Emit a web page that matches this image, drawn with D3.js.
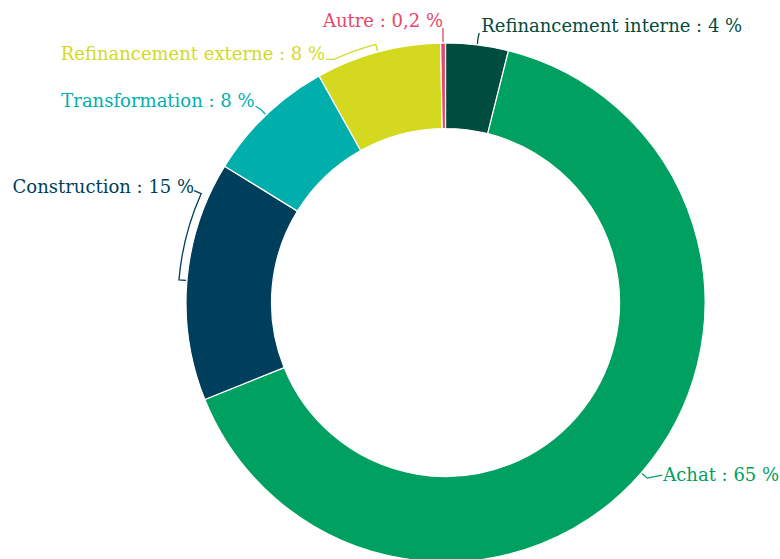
<!DOCTYPE html>
<html>
<head>
<meta charset="utf-8">
<script src="https://cdn.jsdelivr.net/npm/d3@7"></script>
<style>
  body { margin: 0; background: #fff; }
  svg { display: block; }
  .lbl { font-family: "DejaVu Serif", serif; font-size: 18px; }
</style>
</head>
<body>
<svg id="chart" width="780" height="559"></svg>
<script>
// categories, clockwise from 12 o'clock
var categories = ['Refinancement interne', 'Achat', 'Construction', 'Transformation', 'Refinancement externe', 'Autre'];
// shares as drawn (%)
var values = [3.9, 65.0, 14.9, 8.1, 7.8, 0.3];
// shares as printed in the labels
var valueLabels = ['4 %', '65 %', '15 %', '8 %', '8 %', '0,2 %'];
var colors = ['#004c3e', '#00a060', '#003f5b', '#00afab', '#d4d91f', '#e8466b'];

// label layout: bracket end angle (deg), leader offset, text anchor, text offset
var labelLayout = [
  { end: null, lx: 1, ly: -4, anchor: 'start', tx: 2, ty: -1 },
  { end: null, lx: 15, ly: -3, anchor: 'start', tx: 1, ty: 6 },
  { end: 294, lx: -7, ly: -3, anchor: 'end', tx: 0, ty: 2 },
  { end: null, lx: -5, ly: -3, anchor: 'end', tx: -1, ty: 1 },
  { end: 335.4, lx: -8, ly: 0, anchor: 'end', tx: -1, ty: 1 },
  { end: null, lx: 0, ly: -7, anchor: 'end', tx: 0, ty: -1 }
];

var cx = 445.5, cy = 302.5;
var rOuter = 259.5, rInner = 174;
var rBracket = rOuter + 8;

var svg = d3.select('#chart');
var g = svg.append('g').attr('transform', 'translate(' + cx + ',' + cy + ')');

var data = categories.map(function(c, i) { return { name: c, value: values[i], i: i }; });

var pie = d3.pie().sort(null).value(function(d) { return d.value; });
var arcs = pie(data);

var arc = d3.arc().innerRadius(rInner).outerRadius(rOuter);

g.selectAll('.slice')
  .data(arcs)
  .enter().append('path')
  .attr('class', 'slice')
  .attr('d', arc)
  .attr('fill', function(d) { return colors[d.data.i]; })
  .attr('stroke', '#fff')
  .attr('stroke-width', 1.2);

function polar(angleRad, r) {
  return [r * Math.sin(angleRad), -r * Math.cos(angleRad)];
}

var toRad = Math.PI / 180;

arcs.forEach(function(d) {
  var i = d.data.i;
  var lay = labelLayout[i];
  var mid = (d.startAngle + d.endAngle) / 2;
  var end = lay.end == null ? mid : lay.end * toRad;
  var col = colors[i];

  // tick from slice edge out to the bracket
  var p0 = polar(mid, rOuter + 1);
  var p1 = polar(mid, rBracket);
  var path = d3.path();
  path.moveTo(p0[0], p0[1]);
  path.lineTo(p1[0], p1[1]);

  // bracket along the slice
  if (end !== mid) {
    var a0 = mid - Math.PI / 2, a1 = end - Math.PI / 2;
    path.arc(0, 0, rBracket, a0, a1, a1 < a0);
  }
  var pe = polar(end, rBracket);
  var pl = [pe[0] + lay.lx, pe[1] + lay.ly];
  path.lineTo(pl[0], pl[1]);

  g.append('path')
    .attr('d', path.toString())
    .attr('fill', 'none')
    .attr('stroke', col)
    .attr('stroke-width', 1.3);

  g.append('text')
    .attr('class', 'lbl')
    .attr('x', pl[0] + lay.tx)
    .attr('y', pl[1] + lay.ty)
    .attr('text-anchor', lay.anchor)
    .attr('fill', col)
    .text(d.data.name + ' : ' + valueLabels[i]);
});
</script>
</body>
</html>
